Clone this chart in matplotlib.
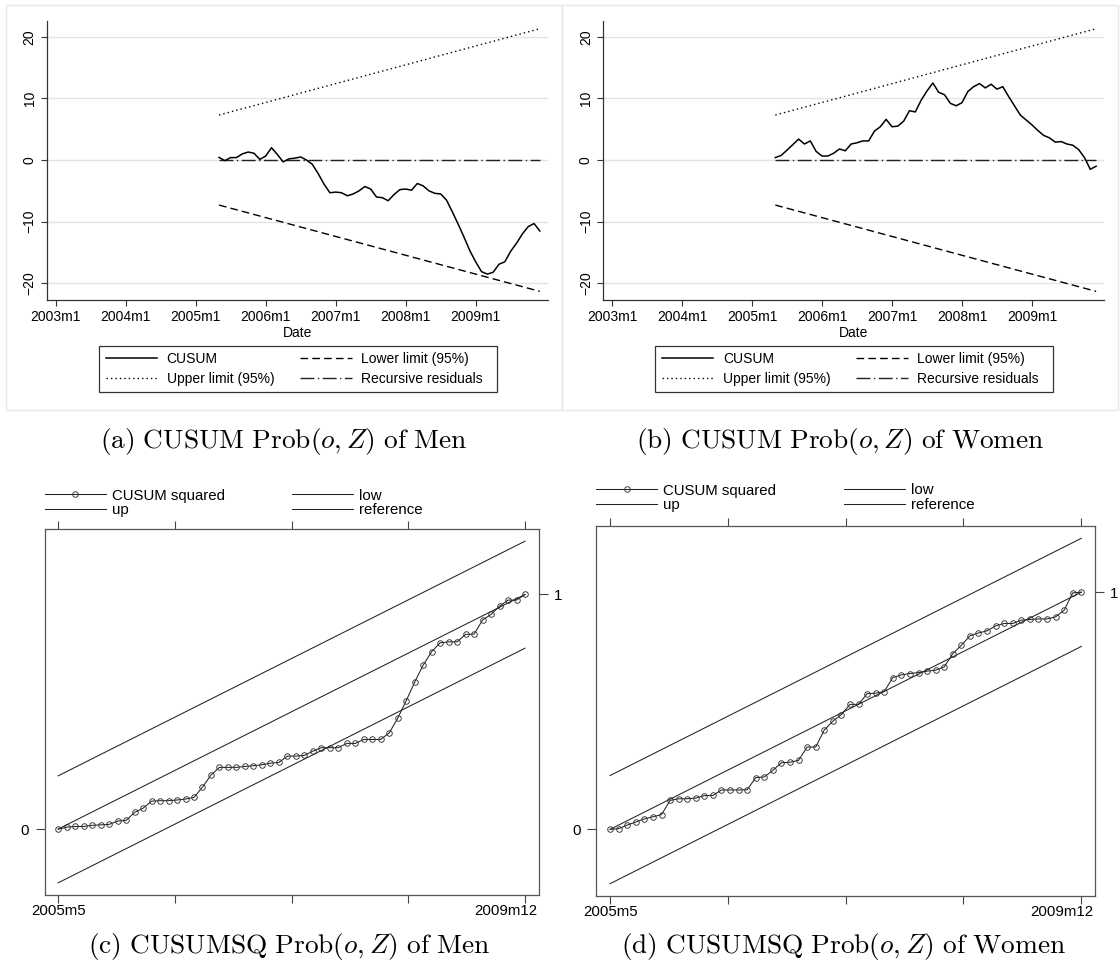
import numpy as np
import matplotlib.pyplot as plt
from matplotlib.patches import Rectangle
import matplotlib.transforms as mtransforms

plt.rcParams['font.family'] = ['Liberation Sans', 'DejaVu Sans']
plt.rcParams['mathtext.fontset'] = 'cm'

W, H = 1120, 974

# CUSUM plots run on a monthly axis, 0 = 2003m1
year_ticks = [0, 12, 24, 36, 48, 60, 72]
year_labels = ['2003m1', '2004m1', '2005m1', '2006m1', '2007m1', '2008m1', '2009m1']
start_month = 28   # 2005m5
end_month = 83     # 2009m12

cusum_men = [0.43, -0.1, 0.4, 0.4, 1.0, 1.3, 1.1, 0.1, 0.65, 2.0,
             0.9, -0.3, 0.2, 0.3, 0.5, 0.0, -0.7, -2.2, -3.9, -5.3,
             -5.2, -5.3, -5.8, -5.5, -5.0, -4.3, -4.7, -6.0, -6.1, -6.6,
             -5.6, -4.8, -4.7, -4.9, -3.8, -4.2, -5.0, -5.4, -5.5, -6.5,
             -8.4, -10.4, -12.5, -14.7, -16.5, -18.1, -18.5, -18.2, -16.9, -16.5,
             -14.8, -13.5, -12.0, -10.8, -10.3, -11.5]
cusum_women = [0.4, 0.75, 1.6, 2.5, 3.4, 2.6, 3.1, 1.4, 0.65, 0.65,
               1.1, 1.8, 1.5, 2.6, 2.8, 3.1, 3.1, 4.7, 5.4, 6.6,
               5.4, 5.5, 6.3, 8.0, 7.8, 9.7, 11.2, 12.5, 11.0, 10.6,
               9.2, 8.8, 9.3, 11.1, 11.9, 12.4, 11.7, 12.3, 11.5, 11.9,
               10.3, 8.8, 7.3, 6.5, 5.7, 4.8, 4.0, 3.6, 2.9, 3.0,
               2.6, 2.4, 1.7, 0.4, -1.5, -1.0]
upper_limit = [7.3, 21.3]
lower_limit = [-7.3, -21.3]
residual_line = [0, 0]

# CUSUM of squares, one point per month 2005m5 .. 2009m12
cusumsq_men = [0.0, 0.008, 0.011, 0.011, 0.016, 0.018, 0.02, 0.034, 0.037, 0.071,
               0.089, 0.119, 0.121, 0.121, 0.124, 0.128, 0.135, 0.179, 0.23, 0.263,
               0.263, 0.263, 0.267, 0.27, 0.274, 0.281, 0.284, 0.311, 0.311, 0.314,
               0.332, 0.347, 0.347, 0.347, 0.365, 0.365, 0.382, 0.382, 0.382, 0.41,
               0.472, 0.547, 0.626, 0.699, 0.756, 0.794, 0.798, 0.798, 0.83, 0.831,
               0.891, 0.915, 0.95, 0.976, 0.976, 1.0]
cusumsq_women = [0.0, 0.003, 0.018, 0.031, 0.044, 0.053, 0.062, 0.122, 0.129, 0.129,
                 0.132, 0.142, 0.143, 0.166, 0.166, 0.166, 0.167, 0.218, 0.221, 0.249,
                 0.281, 0.283, 0.291, 0.347, 0.347, 0.419, 0.456, 0.484, 0.527, 0.527,
                 0.572, 0.574, 0.581, 0.64, 0.651, 0.657, 0.661, 0.667, 0.671, 0.685,
                 0.741, 0.776, 0.816, 0.828, 0.837, 0.858, 0.868, 0.868, 0.882, 0.885,
                 0.887, 0.887, 0.896, 0.924, 0.997, 1.0]
sq_upper = [0.227, 1.227]
sq_lower = [-0.229, 0.771]
sq_reference = [0, 1]
sq_first, sq_last = '2005m5', '2009m12'

captions = [r'$\mathrm{(a)\ CUSUM\ Prob}(o, Z)\mathrm{\ of\ Men}$',
            r'$\mathrm{(b)\ CUSUM\ Prob}(o, Z)\mathrm{\ of\ Women}$',
            r'$\mathrm{(c)\ CUSUMSQ\ Prob}(o, Z)\mathrm{\ of\ Men}$',
            r'$\mathrm{(d)\ CUSUMSQ\ Prob}(o, Z)\mathrm{\ of\ Women}$']


def rect(x0, y0, x1, y1):
    return [x0 / W, 1 - y1 / H, (x1 - x0) / W, (y1 - y0) / H]


def fig_box(x0, y0, x1, y1, color, lw):
    fig.patches.append(Rectangle((x0 / W, 1 - y1 / H), (x1 - x0) / W, (y1 - y0) / H,
                                 transform=fig.transFigure, fill=False,
                                 edgecolor=color, linewidth=lw))


fig = plt.figure(figsize=(W / 100, H / 100), dpi=100)


def cusum_panel(dx, series):
    ax = fig.add_axes(rect(46.7 + dx, 20.7, 548 + dx, 300))
    months = np.arange(start_month, end_month + 1)
    ends = [start_month, end_month]
    h1, = ax.plot(months, series, color='black', lw=1.1, zorder=4)
    h2, = ax.plot(ends, upper_limit, color='black', lw=1.0, ls=(0, (1, 2.2)))
    h3, = ax.plot(ends, lower_limit, color='black', lw=1.0, ls=(0, (5.5, 3)))
    h4, = ax.plot(ends, residual_line, color='#222222', lw=1.0,
                  ls=(0, (10, 2.5, 1, 2.5)), zorder=3)
    ax.set_xlim(-1.54, 84.4)
    ax.set_ylim(-22.7, 22.6)
    ax.set_xticks(year_ticks)
    ax.set_xticklabels(year_labels)
    ax.set_yticks([-20, -10, 0, 10, 20])
    ax.grid(axis='y', color='#e4e4e4', lw=1.0)
    ax.set_axisbelow(True)
    for s in ['top', 'right']:
        ax.spines[s].set_visible(False)
    for s in ['left', 'bottom']:
        ax.spines[s].set_color('#333333')
        ax.spines[s].set_linewidth(0.9)
    ax.tick_params(direction='out', length=4.3, width=0.8, color='#333333',
                   labelsize=10, pad=3)
    ax.tick_params(axis='y', labelrotation=90)
    for lbl in ax.get_yticklabels():
        lbl.set_va('center')
    ax.set_xlabel('Date', fontsize=10, labelpad=1)

    # legend below the plot
    fig_box(99 + dx, 346, 497 + dx, 392, '#333333', 0.9)
    fig.legend([h1, h2, h3, h4],
               ['CUSUM', 'Upper limit (95%)', 'Lower limit (95%)', 'Recursive residuals'],
               loc='upper left', bbox_to_anchor=((105.7 + dx) / W, 1 - 352 / H),
               bbox_transform=fig.transFigure, ncol=2, frameon=False, fontsize=10,
               borderpad=0, borderaxespad=0, handlelength=3.7, handletextpad=0.68,
               columnspacing=1.87, labelspacing=0.45)
    # panel frame
    fig_box(6 + dx, 5, 562 + dx, 410, '#e8e8e8', 1.0)
    return ax


def cusumsq_panel(box, series, legend_top):
    x0, y0, x1, y1 = box
    ax = fig.add_axes(rect(x0, y0, x1, y1))
    idx = np.arange(len(series))
    ends = [0, len(series) - 1]
    h1, = ax.plot(idx, series, color='#222222', lw=0.75, marker='o', ms=4.0,
                  mfc='none', mec='#333333', mew=0.65)
    h2, = ax.plot(ends, sq_upper, color='#222222', lw=0.75)
    h3, = ax.plot(ends, sq_lower, color='#222222', lw=0.75)
    h4, = ax.plot(ends, sq_reference, color='#222222', lw=0.75)
    ax.set_xlim(-1.6, len(series) - 1 + 1.6)
    ax.set_ylim(-0.281, 1.279)
    ax.set_xticks(np.linspace(0, len(series) - 1, 5))
    ax.set_xticklabels([sq_first, '', '', '', sq_last])
    ax.set_yticks([0, 1])
    ax.set_yticklabels(['0', '1'])
    for s in ax.spines.values():
        s.set_color('#555555')
        s.set_linewidth(0.9)
    ax.tick_params(axis='x', top=True, bottom=True, direction='out', length=5.8,
                   width=0.8, color='#444444', labelsize=10.8, pad=1)
    ax.tick_params(axis='y', left=True, right=True, labelleft=True, labelright=True,
                   direction='out', length=6.5, width=0.8, color='#444444',
                   labelsize=10.8, pad=4.5)
    yt = ax.yaxis.get_major_ticks()
    yt[0].tick2line.set_visible(False)
    yt[0].label2.set_visible(False)
    yt[1].tick1line.set_visible(False)
    yt[1].label1.set_visible(False)
    last = ax.get_xticklabels()[-1]
    last.set_ha('right')
    last.set_transform(last.get_transform() +
                       mtransforms.ScaledTranslation(12.5 / 100, 0, fig.dpi_scale_trans))
    fig.legend([h1, h2, h3, h4], ['CUSUM squared', 'up', 'low', 'reference'],
               loc='upper left', bbox_to_anchor=(x0 / W, 1 - legend_top / H),
               bbox_transform=fig.transFigure, ncol=2, frameon=False, fontsize=10.8,
               borderpad=0, borderaxespad=0, handlelength=4.07, handletextpad=0.4,
               columnspacing=4.48, labelspacing=0.02, numpoints=1)
    return ax


cusumsq_panel((44.6, 529, 538.6, 895), cusumsq_men, 488.5)
cusumsq_panel((596.4, 526, 1095, 896), cusumsq_women, 483.5)
cusum_panel(0, cusum_men)
cusum_panel(556.3, cusum_women)

cap_pos = [(284, 441.7), (840, 441.7), (289, 947), (843, 947)]
for (cx, cy), text in zip(cap_pos, captions):
    fig.text(cx / W, 1 - cy / H, text, ha='center', va='center', fontsize=19.7)

fig.savefig('out.png', dpi=100, facecolor='white')
